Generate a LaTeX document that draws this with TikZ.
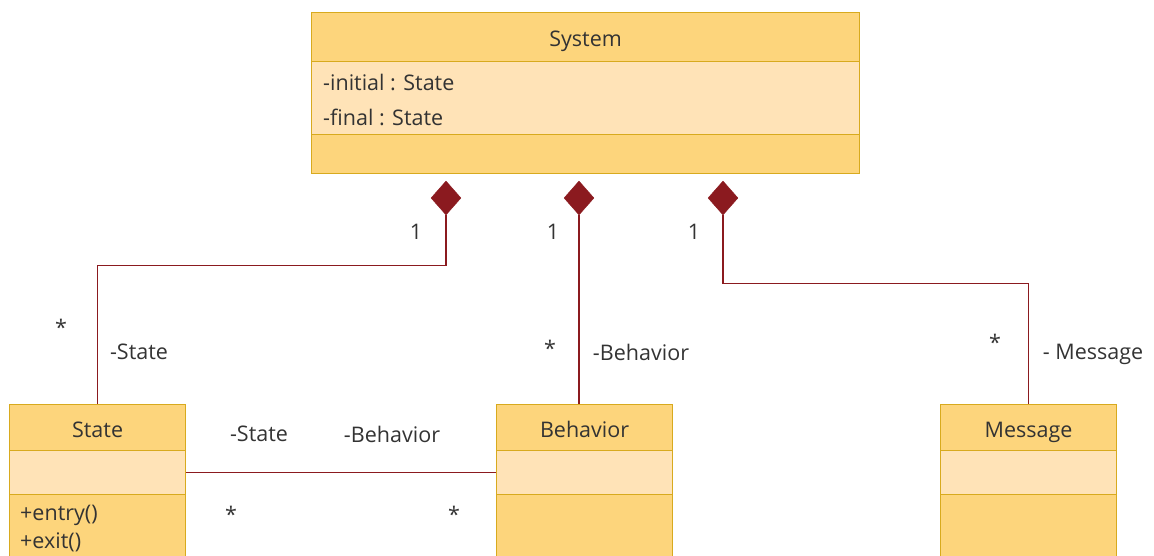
\documentclass[tikz,border=0pt]{standalone}
\usepackage{fontspec}
\setmainfont{Open Sans}
\usetikzlibrary{shapes.geometric}
\definecolor{hdrfill}{HTML}{FDD57C}
\definecolor{attrfill}{HTML}{FFE3B7}
\definecolor{boxline}{HTML}{D8AA1E}
\definecolor{linkred}{HTML}{8B1A1F}
\definecolor{ink}{HTML}{333333}
\tikzset{
  txt/.style={text=ink, font=\fontsize{21.5}{26}\selectfont},
  compart/.style={draw=boxline, line width=1.2pt, rectangle, inner sep=0pt, anchor=north west},
  hdr/.style={compart, fill=hdrfill, txt, text height=20pt, text depth=1pt},
  attr/.style={compart, fill=attrfill},
  ops/.style={compart, fill=hdrfill},
  member/.style={anchor=west, inner sep=0pt, txt},
  lbl/.style={inner sep=0pt, txt},
  comp/.style={diamond, fill=linkred, draw=linkred, minimum width=30pt, minimum height=34pt, inner sep=0pt},
  assoc/.style={draw=linkred, line width=1.3pt},
}
\begin{document}
\begin{tikzpicture}[x=1pt,y=-1pt]
\useasboundingbox (0,0) rectangle (1154,556);
\clip (0,0) rectangle (1154,556);

% System class
\node[hdr, minimum width=548pt, minimum height=49pt] (sysH) at (311,12) {System};
\node[attr, minimum width=548pt, minimum height=73pt] (sysA) at (311,61) {};
\node[ops, minimum width=548pt, minimum height=39pt] (sysO) at (311,134) {};
\node[member] (sysA1) at (323,82) {-initial : State};
\node[member] (sysA2) at (323,117) {-final : State};

% State class
\node[hdr, minimum width=176pt, minimum height=46pt] (stH) at (9,404) {State};
\node[attr, minimum width=176pt, minimum height=44pt] (stA) at (9,450) {};
\node[ops, minimum width=176pt, minimum height=80pt] (stO) at (9,494) {};
\node[member] (stO1) at (20,515) {+entry()};
\node[member] (stO2) at (20,542) {+exit()};

% Behavior class
\node[hdr, minimum width=176pt, minimum height=46pt] (bhH) at (496,404) {Behavior};
\node[attr, minimum width=176pt, minimum height=44pt] (bhA) at (496,450) {};
\node[ops, minimum width=176pt, minimum height=80pt] (bhO) at (496,494) {};

% Message class
\node[hdr, minimum width=176pt, minimum height=46pt] (msH) at (940,404) {Message};
\node[attr, minimum width=176pt, minimum height=44pt] (msA) at (940,450) {};
\node[ops, minimum width=176pt, minimum height=80pt] (msO) at (940,494) {};

% composition diamonds
\node[comp] (d1) at (446,198) {};
\node[comp] (d2) at (579,198) {};
\node[comp] (d3) at (723,198) {};

% connectors
\draw[assoc] (d1.south) -- ++(0,50) -| (stH.north);
\draw[assoc] (d2.south) -- (d2.south |- bhH.north);
\draw[assoc] (d3.south) -- ++(0,68) -| (msH.north);
\draw[assoc] (stA.east) -- (bhA.west);

% multiplicities and role names
\node[lbl] (m1) at (416,232) {1};
\node[lbl] (m2) at (553,232) {1};
\node[lbl] (m3) at (694,232) {1};
\node[lbl] (s1) at (61,327) {*};
\node[lbl] (r1) at (139,352) {-State};
\node[lbl] (s2) at (550,348) {*};
\node[lbl] (r2) at (641,352) {-Behavior};
\node[lbl] (s3) at (995,342) {*};
\node[lbl] (r3) at (1093,354) {- Message};
\node[lbl] (r4) at (259,434) {-State};
\node[lbl] (r5) at (392,434) {-Behavior};
\node[lbl] (s4) at (231,514) {*};
\node[lbl] (s5) at (454,514) {*};
\end{tikzpicture}
\end{document}
